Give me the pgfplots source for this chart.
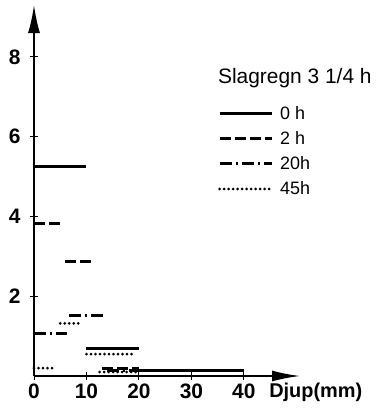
\documentclass[border=0pt]{standalone}
\usepackage{fontspec}
\setmainfont{Liberation Sans}
\usepackage{pgfplots}
\pgfplotsset{compat=1.18}
\usetikzlibrary{arrows.meta}

\begin{document}
\begin{tikzpicture}
\begin{axis}[
    scale only axis,
    width=266bp, height=371bp,
    xmin=0, xmax=50.7,
    ymin=0, ymax=9.3,
    axis x line=bottom, axis y line=left,
    axis line style={line width=1.8bp},
    x axis line style={-{Latex[length=28bp,width=11bp]}},
    y axis line style={-{Latex[length=28bp,width=12bp]}},
    xtick={0,10,20,30,40},
    ytick={2,4,6,8},
    tick align=center,
    major tick length=8bp,
    tick style={line width=1bp, black},
    /pgf/number format/assume math mode=true,
    ticklabel style={font=\fontsize{21}{25}\selectfont\bfseries},
    yticklabel style={xshift=-6bp},
    clip=false,
    unbounded coords=jump,
    legend style={at={(axis cs:35.05,6.75)}, anchor=north west, draw=none, fill=none,
        inner sep=0pt, row sep=12bp, column sep=7bp,
        font=\fontsize{18}{21}\selectfont,
        nodes={inner sep=0pt, text height=13bp, text depth=0bp}},
    legend cell align=left,
    legend image code/.code={\draw[#1] (0bp,-0.5bp) -- (52bp,-0.5bp);},
]
% 0 h
\addplot[line width=3bp] coordinates {
    (0,5.25) (10,5.25) (10,nan)
    (10,0.7) (20,0.7) (20,nan)
    (20,0.15) (40,0.15)
};
\addlegendentry{0 h}
% 2 h
\addplot[line width=3bp, dash pattern=on 11bp off 4bp] coordinates {
    (0,3.83) (5.7,3.83) (5.7,nan)
    (6,2.88) (11.6,2.88) (11.6,nan)
    (13,0.2) (20,0.2)
};
\addlegendentry{2 h}
% 20 h
\addplot[line width=3bp, dash pattern=on 12bp off 4bp on 2bp off 4bp] coordinates {
    (0,1.06) (6.3,1.06) (6.3,nan)
    (6.7,1.51) (13.9,1.51) (13.9,nan)
    (14,0.15) (20,0.15)
};
\addlegendentry{20h}
% 45 h
\addplot[line width=3bp, line cap=round, dash pattern=on 0bp off 4.5bp] coordinates {
    (0,0.2) (4,0.2) (4,nan)
    (5,1.32) (8.8,1.32) (8.8,nan)
    (10,0.55) (19.4,0.55) (19.4,nan)
    (12.5,0.1) (20,0.1)
};
\addlegendentry{45h}
\node[anchor=base west, inner sep=0pt, font=\fontsize{21}{25}\selectfont]
    at (axis cs:35.05,7.325) {Slagregn 3 1/4 h};
\node[anchor=west, inner sep=0pt, font=\fontsize{20}{24}\selectfont\bfseries]
    at (axis cs:44.8,-0.42) {Djup(mm)};
\coordinate (o) at (axis cs:0,0);
\end{axis}
\path[use as bounding box] ([shift={(-34bp,-35bp)}]o) rectangle ([shift={(350bp,376bp)}]o);
\end{tikzpicture}
\end{document}
